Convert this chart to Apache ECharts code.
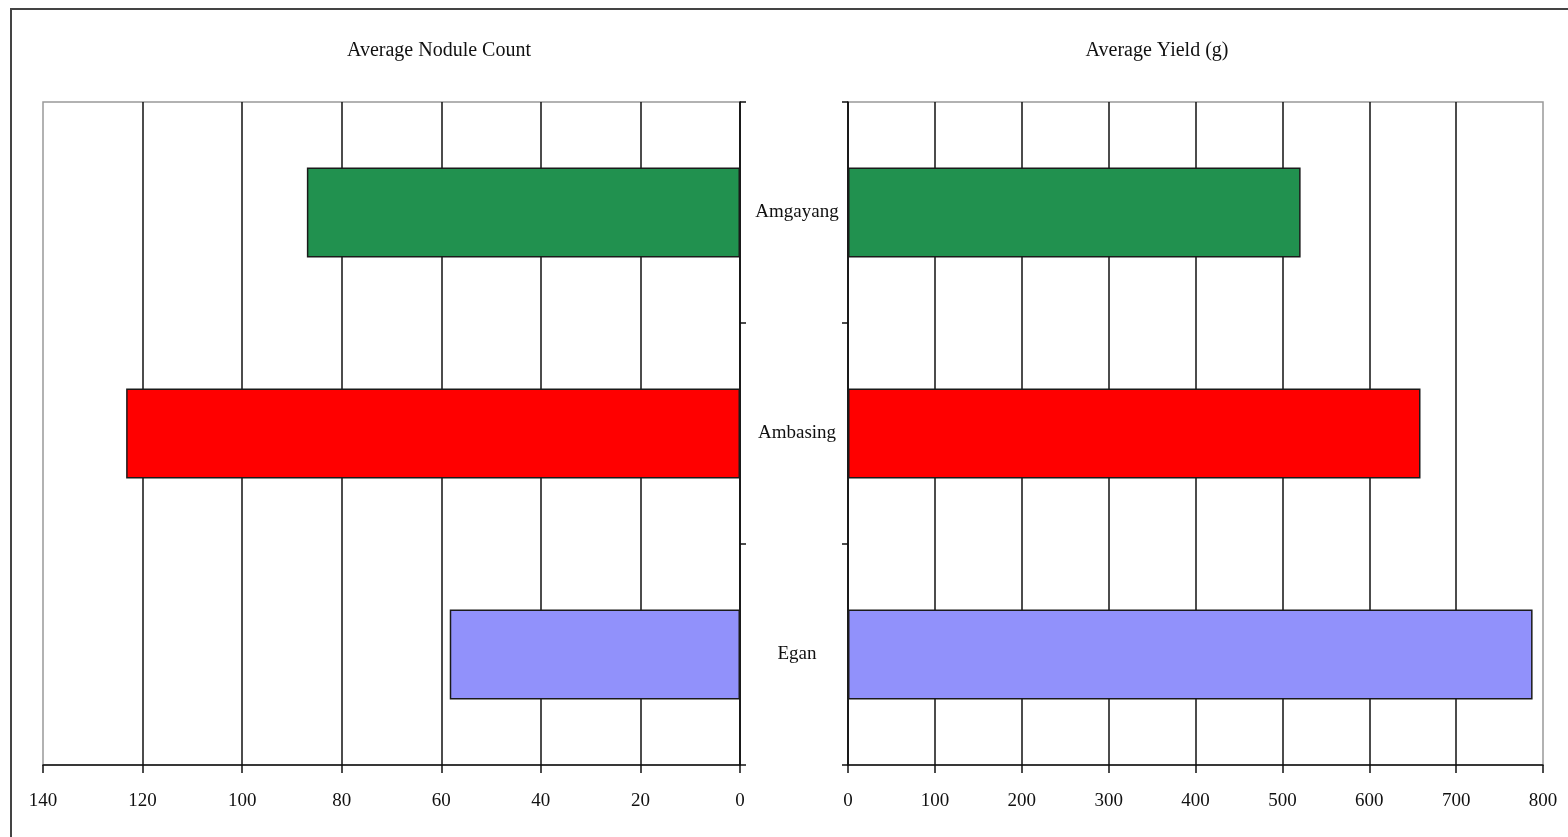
<!DOCTYPE html>
<html>
<head>
<meta charset="utf-8">
<script src="https://cdn.jsdelivr.net/npm/echarts@6/dist/echarts.min.js"></script>
<style>
  html, body { margin: 0; padding: 0; background: #fff; }
  #chart { width: 1568px; height: 837px; }
</style>
</head>
<body>
<div id="chart"></div>
<script>
const categories = ['Amgayang', 'Ambasing', 'Egan']
const noduleCount = [87, 123.3, 58.3]
const yieldGrams = [521, 659, 788]
const noduleTicks = [0, 140, 20]
const yieldTicks = [0, 800, 100]
const barColors = ['#21914f', '#ff0000', '#9191fb']

const font = 'Liberation Serif'
const txt = '#111'

const chart = echarts.init(document.getElementById('chart'))

function bars(values) {
  return values.map((v, i) => ({
    value: v,
    itemStyle: { color: barColors[i] }
  }))
}

const valueAxisBase = {
  type: 'value',
  axisLine: { show: true, onZero: false, lineStyle: { color: '#111', width: 1.5 } },
  axisTick: { show: true, length: 8, lineStyle: { color: '#111', width: 1.5 } },
  axisLabel: { color: txt, fontFamily: font, fontSize: 19, margin: 27 },
  splitLine: { show: true, showMaxLine: false, lineStyle: { color: '#111', width: 1.5 } }
}

const catAxisBase = {
  type: 'category',
  data: categories,
  inverse: true,
  axisLine: { show: true, lineStyle: { color: '#111', width: 1.5 } },
  axisTick: { show: true, length: 6, lineStyle: { color: '#111', width: 1.5 } },
  splitLine: { show: false }
}

const option = {
  backgroundColor: '#fff',
  animation: false,
  title: [
    { text: 'Average Nodule Count', left: 434, top: 36, textAlign: 'center',
      textStyle: { fontFamily: font, fontSize: 20, fontWeight: 'normal', color: txt } },
    { text: 'Average Yield (g)', left: 1152, top: 36, textAlign: 'center',
      textStyle: { fontFamily: font, fontSize: 20, fontWeight: 'normal', color: txt } }
  ],
  graphic: [
    { type: 'rect', shape: { x: 11, y: 9, width: 1600, height: 900 },
      style: { fill: 'none', stroke: '#444', lineWidth: 2 }, silent: true }
  ],
  grid: [
    { left: 43, right: 828, top: 102, bottom: 72, show: true, borderColor: '#999', borderWidth: 1.5, backgroundColor: 'transparent' },
    { left: 848, right: 25, top: 102, bottom: 72, show: true, borderColor: '#999', borderWidth: 1.5, backgroundColor: 'transparent' }
  ],
  xAxis: [
    Object.assign({}, valueAxisBase, {
      gridIndex: 0, inverse: true,
      min: noduleTicks[0], max: noduleTicks[1], interval: noduleTicks[2]
    }),
    Object.assign({}, valueAxisBase, {
      gridIndex: 1,
      min: yieldTicks[0], max: yieldTicks[1], interval: yieldTicks[2]
    })
  ],
  yAxis: [
    Object.assign({}, catAxisBase, {
      gridIndex: 0, position: 'right',
      axisLabel: { show: false }
    }),
    Object.assign({}, catAxisBase, {
      gridIndex: 1, position: 'left',
      axisLabel: { show: true, color: txt, fontFamily: font, fontSize: 19, align: 'center', margin: 51 }
    })
  ],
  series: [
    {
      name: 'Average Nodule Count', type: 'bar',
      xAxisIndex: 0, yAxisIndex: 0, barWidth: 90,
      itemStyle: { borderColor: '#1a1a1a', borderWidth: 1.5 },
      data: bars(noduleCount)
    },
    {
      name: 'Average Yield (g)', type: 'bar',
      xAxisIndex: 1, yAxisIndex: 1, barWidth: 90,
      itemStyle: { borderColor: '#1a1a1a', borderWidth: 1.5 },
      data: bars(yieldGrams)
    }
  ]
}

chart.setOption(option)
</script>
</body>
</html>
